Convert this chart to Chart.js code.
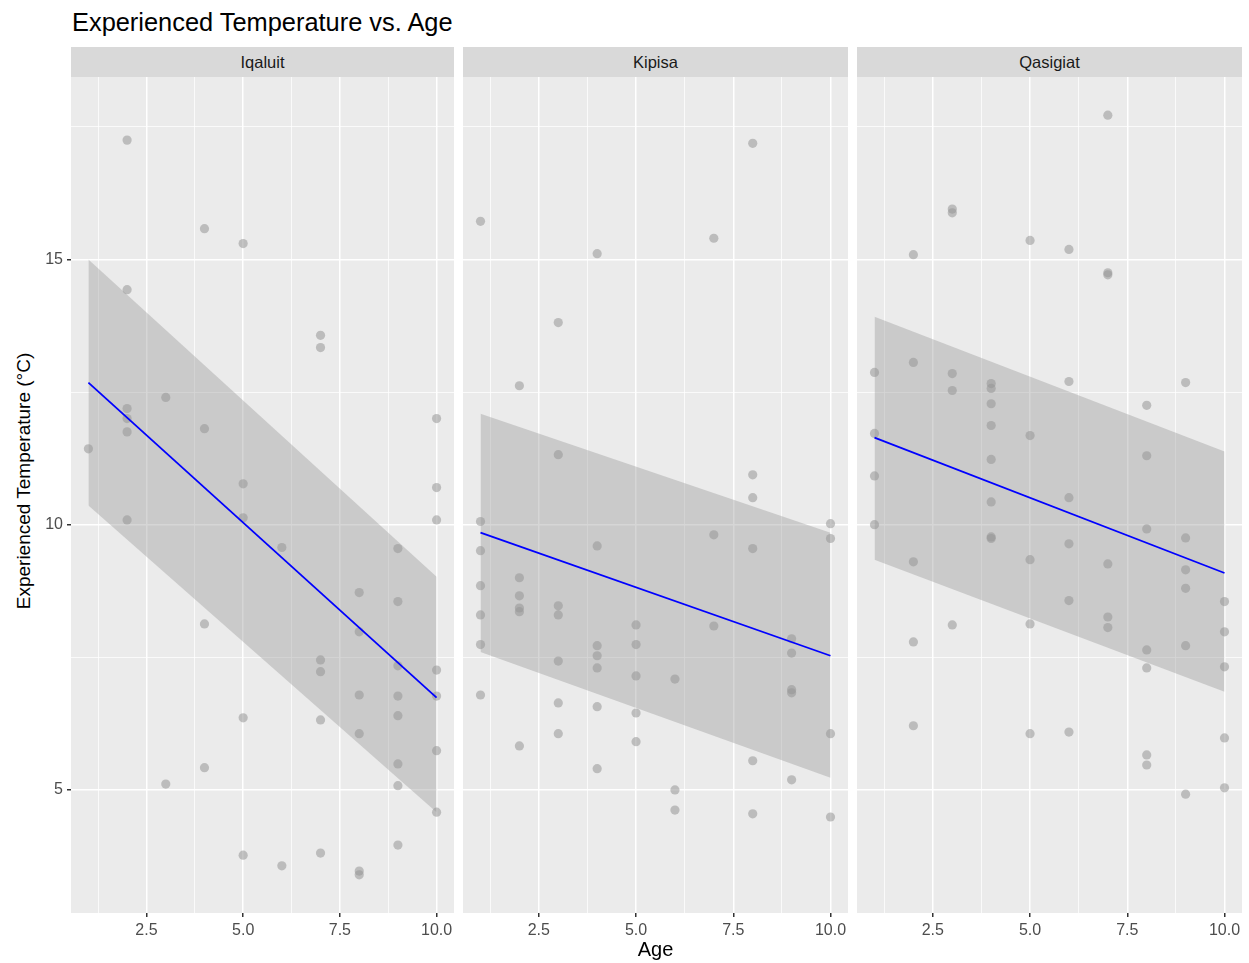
<!DOCTYPE html>
<html>
<head>
<meta charset="utf-8">
<script src="https://cdn.jsdelivr.net/npm/chart.js@4.4.1/dist/chart.umd.min.js"></script>
<style>
  body { margin: 0; background: #fff; font-family: 'Liberation Sans', Arial, sans-serif; }
  #wrap { position: relative; width: 1249px; height: 963px; }
  #title { position: absolute; left: 72px; top: 9px; font-size: 25.4px; line-height: 26px; color: #000; }
  #ytitle { position: absolute; left: 24px; top: 481px; width: 300px; margin-left: -150px; margin-top: -12px;
            height: 24px; line-height: 24px; text-align: center; font-size: 19px; color: #000;
            transform: rotate(-90deg); white-space: nowrap; }
  .strip { position: absolute; top: 47px; height: 30px; background: #D9D9D9; color: #1A1A1A;
           font-size: 16.5px; line-height: 30px; text-align: center; }
  canvas { position: absolute; top: 77px; }
</style>
</head>
<body>
<div id="wrap">
  <div id="title">Experienced Temperature vs. Age</div>
  <div id="ytitle">Experienced Temperature (°C)</div>
  <div class="strip" style="left:71px;width:383px">Iqaluit</div>
  <div class="strip" style="left:463px;width:385px">Kipisa</div>
  <div class="strip" style="left:857px;width:385px">Qasigiat</div>
  <canvas id="c1" width="454" height="886" style="left:0px"></canvas>
  <canvas id="c2" width="385" height="886" style="left:463px"></canvas>
  <canvas id="c3" width="385" height="886" style="left:857px"></canvas>
</div>
<script>
let ages = [1, 2, 3, 4, 5, 6, 7, 8, 9, 10];

let iqaluitTemps = [
  [11.43],
  [17.25, 14.43, 12.19, 12.0, 11.75, 10.09],
  [12.40, 5.11],
  [15.58, 11.81, 8.13, 5.42],
  [15.30, 10.77, 10.13, 6.36, 3.77],
  [9.57, 3.57],
  [13.57, 13.34, 7.45, 7.23, 6.32, 3.81],
  [8.72, 7.98, 6.79, 6.06, 3.47, 3.40],
  [9.55, 8.55, 7.34, 6.77, 6.40, 5.49, 5.08, 3.96],
  [12.0, 10.70, 10.09, 7.26, 6.77, 5.74, 4.58]
];
let kipisaTemps = [
  [15.72, 10.06, 9.51, 8.85, 8.30, 7.74, 6.79],
  [12.62, 9.0, 8.66, 8.43, 8.36, 5.83],
  [13.81, 11.32, 8.47, 8.30, 7.43, 6.64, 6.06],
  [15.11, 9.60, 7.72, 7.53, 7.30, 6.57, 5.40],
  [8.11, 7.74, 7.15, 6.45, 5.91],
  [7.09, 5.0, 4.62],
  [15.40, 9.81, 8.09],
  [17.19, 10.94, 10.51, 9.55, 5.55, 4.55],
  [7.85, 7.58, 6.89, 6.83, 5.19],
  [10.02, 9.74, 6.06, 4.49]
];
let qasigiatTemps = [
  [12.87, 11.72, 10.92, 10.0],
  [15.09, 13.06, 9.30, 7.79, 6.21],
  [15.95, 15.88, 12.85, 12.53, 8.11],
  [12.66, 12.57, 12.28, 11.87, 11.23, 10.43, 9.77, 9.74],
  [15.36, 11.68, 9.34, 8.13, 6.06],
  [15.19, 12.70, 10.51, 9.64, 8.57, 6.09],
  [17.72, 14.75, 14.71, 9.26, 8.26, 8.06],
  [12.25, 11.30, 9.92, 7.64, 7.30, 5.66, 5.47],
  [12.68, 9.75, 9.15, 8.80, 7.72, 4.92],
  [8.55, 7.98, 7.32, 5.98, 5.04]
];

// fitted line and ribbon, at age 1 and age 10
let fitAges = [1, 10];
let iqaluitFit = [12.68, 6.74];
let iqaluitUpper = [15.0, 9.02];
let iqaluitLower = [10.36, 4.58];
let kipisaFit = [9.85, 7.53];
let kipisaUpper = [12.09, 9.85];
let kipisaLower = [7.60, 5.23];
let qasigiatFit = [11.64, 9.09];
let qasigiatUpper = [13.92, 11.38];
let qasigiatLower = [9.34, 6.85];

let xTicks = [1.25, 2.5, 3.75, 5, 6.25, 7.5, 8.75, 10];
let xLabels = {2.5: '2.5', 5: '5.0', 7.5: '7.5', 10: '10.0'};
let yTicks = [5, 7.5, 10, 12.5, 15, 17.5];
let yLabels = {5: '5', 10: '10', 15: '15'};

function toPoints(temps) {
  let pts = [];
  temps.forEach((list, i) => list.forEach(t => pts.push({x: ages[i], y: t})));
  return pts;
}
function toLine(vals) {
  return vals.map((v, i) => ({x: fitAges[i], y: v}));
}

const panelBg = {
  id: 'panelBg',
  beforeDraw(chart) {
    const a = chart.chartArea;
    const c = chart.ctx;
    c.save();
    c.fillStyle = '#EBEBEB';
    c.fillRect(a.left, a.top, a.right - a.left, a.bottom - a.top);
    c.restore();
  }
};

function makePanel(id, temps, fit, upper, lower, first, showXTitle) {
  new Chart(document.getElementById(id), {
    type: 'scatter',
    data: {
      datasets: [
        {
          type: 'line', data: toLine(fit), borderColor: '#0000FF', borderWidth: 1.8,
          pointRadius: 0, fill: false
        },
        {
          data: toPoints(temps), backgroundColor: 'rgba(150,150,150,0.55)',
          borderWidth: 0, pointRadius: 4.6
        },
        {
          type: 'line', data: toLine(upper), borderWidth: 0, pointRadius: 0,
          fill: '+1', backgroundColor: 'rgba(153,153,153,0.4)'
        },
        {
          type: 'line', data: toLine(lower), borderWidth: 0, pointRadius: 0, fill: false
        }
      ]
    },
    options: {
      responsive: false,
      animation: false,
      devicePixelRatio: 1,
      layout: { padding: 0, autoPadding: false },
      plugins: { legend: { display: false }, tooltip: { enabled: false } },
      scales: {
        x: {
          type: 'linear', min: 0.55, max: 10.45,
          afterBuildTicks: s => { s.ticks = xTicks.map(v => ({value: v})); },
          afterFit: s => { s.height = 50; s.paddingLeft = 0; s.paddingRight = 0; },
          border: { display: false },
          grid: {
            color: '#FFFFFF',
            lineWidth: c => xLabels[c.tick.value] ? 1.5 : 0.75,
            tickColor: c => xLabels[c.tick.value] ? '#333333' : 'rgba(0,0,0,0)',
            tickLength: 4, tickWidth: 1.5
          },
          ticks: {
            autoSkip: false, maxRotation: 0, padding: 4,
            color: '#4D4D4D', font: { family: 'Liberation Sans', size: 16 },
            callback: v => xLabels[v] || ''
          },
          title: {
            display: showXTitle, text: 'Age', color: '#000000',
            font: { family: 'Liberation Sans', size: 20 }, padding: { top: 0, bottom: 1 }
          }
        },
        y: {
          type: 'linear', min: 2.68, max: 18.44,
          afterBuildTicks: s => { s.ticks = yTicks.map(v => ({value: v})); },
          afterFit: s => { s.width = first ? 71 : 0; s.paddingTop = 0; s.paddingBottom = 0; },
          border: { display: false },
          grid: {
            color: '#FFFFFF',
            lineWidth: c => yLabels[c.tick.value] ? 1.5 : 0.75,
            tickColor: c => yLabels[c.tick.value] ? '#333333' : 'rgba(0,0,0,0)',
            drawTicks: first, tickLength: 4, tickWidth: 1.5
          },
          ticks: {
            display: first, autoSkip: false, padding: 4,
            color: '#4D4D4D', font: { family: 'Liberation Sans', size: 16 },
            callback: v => yLabels[v] || ''
          }
        }
      }
    },
    plugins: [panelBg]
  });
}

makePanel('c1', iqaluitTemps, iqaluitFit, iqaluitUpper, iqaluitLower, true, false);
makePanel('c2', kipisaTemps, kipisaFit, kipisaUpper, kipisaLower, false, true);
makePanel('c3', qasigiatTemps, qasigiatFit, qasigiatUpper, qasigiatLower, false, false);
</script>
</body>
</html>
